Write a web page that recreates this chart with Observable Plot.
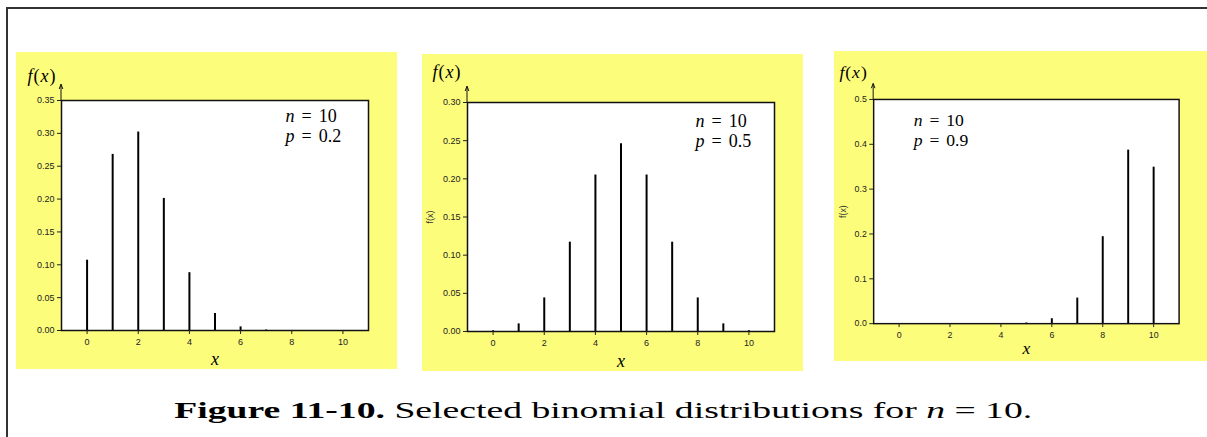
<!DOCTYPE html>
<html><head><meta charset="utf-8">
<script src="https://cdn.jsdelivr.net/npm/d3@7"></script>
<script src="https://cdn.jsdelivr.net/npm/@observablehq/plot@0.6"></script>
<style>
html,body{margin:0;padding:0;background:#fff;overflow:hidden;width:1207px;height:437px}
#page{position:relative;width:1207px;height:437px;overflow:hidden}
#border{position:absolute;left:6px;top:7px;width:1400px;height:600px;border-left:2px solid #333;border-top:2px solid #333}
.panel{position:absolute}
.panel svg{display:block}
#caption{position:absolute;left:0;width:1207px;text-align:center;top:398px;line-height:24px;font-family:"Liberation Serif",serif;font-size:24px;white-space:nowrap;color:#000}
#capspan{display:inline-block;transform-origin:50% 50%}
</style></head><body>
<div id="page">
<div id="border"></div>
<div class="panel" id="p1" style="left:16px;top:52px"></div>
<div class="panel" id="p2" style="left:422px;top:54px"></div>
<div class="panel" id="p3" style="left:834px;top:51px"></div>
<div id="caption"><span id="capspan"><b>Figure 11-10.</b> Selected binomial distributions for <i>n</i> = 10.</span></div>
</div>
<script>
// ---- data ----
const xValues = [0, 1, 2, 3, 4, 5, 6, 7, 8, 9, 10];
const fP02 = [0.107, 0.268, 0.302, 0.201, 0.088, 0.026, 0.0055, 0.0008, 0.0001, 0.0, 0.0];
const fP05 = [0.001, 0.010, 0.044, 0.117, 0.205, 0.246, 0.205, 0.117, 0.044, 0.010, 0.001];
const fP09 = [0.0, 0.0, 0.0, 0.0, 0.0001, 0.0015, 0.011, 0.057, 0.194, 0.387, 0.349];
const xTicks = [0, 2, 4, 6, 8, 10];
const yTicks1 = [0, 0.05, 0.10, 0.15, 0.20, 0.25, 0.30, 0.35];
const yTicks2 = [0, 0.05, 0.10, 0.15, 0.20, 0.25, 0.30];
const yTicks3 = [0, 0.1, 0.2, 0.3, 0.4, 0.5];
const nLabel = "n = 10";
const pLabels = ["p = 0.2", "p = 0.5", "p = 0.9"];
const yLabelTop = "f(x)";
const yLabelSide = "f(x)";
const xLabel = "x";

const YELLOW = "#fdfd7c";
const SERIF = "Liberation Serif";

function panel(cfg) {
  const data = xValues.map((x, i) => ({x, f: cfg.values[i]}));
  const yMax = cfg.yTicks[cfg.yTicks.length - 1];
  const marks = [
    Plot.frame({fill: "white", stroke: null}),
    Plot.ruleX(data, {x: "x", y1: 0, y2: "f", stroke: "#000", strokeWidth: 2}),
    Plot.frame({stroke: "#111", strokeWidth: 1.5}),
    Plot.axisY({ticks: cfg.yTicks, tickFormat: cfg.fmt, tickSize: 4, tickPadding: 3, label: null}),
    Plot.axisX({ticks: xTicks, tickFormat: d3.format("d"), tickSize: 4, tickPadding: 4, label: null}),
    (index, scales, values, dims) => {
      const x0 = dims.marginLeft, y0 = dims.marginTop;
      const g = d3.create("svg:g");
      g.append("line").attr("x1", x0).attr("x2", x0).attr("y1", y0).attr("y2", y0 - 15)
        .attr("stroke", "#111").attr("stroke-width", 1);
      g.append("path").attr("d", `M${x0 - 1.8},${y0 - 11}L${x0},${y0 - 16}L${x0 + 1.8},${y0 - 11}`)
        .attr("fill", "none").attr("stroke", "#111").attr("stroke-width", 1);
      return g.node();
    },
    Plot.text([yLabelTop], {frameAnchor: "top-left", dx: cfg.fxDx, dy: cfg.fxDy, textAnchor: "start", lineAnchor: "middle",
      fontFamily: SERIF, fontSize: 18, fill: "#000"}),
    Plot.text([xLabel], {frameAnchor: "bottom", dy: cfg.xlDy, lineAnchor: "middle",
      fontFamily: SERIF, fontSize: 18, fill: "#000"}),
    Plot.text([nLabel + "\n" + cfg.pLabel], {frameAnchor: "top-left", dx: cfg.annDx, dy: cfg.annDy, textAnchor: "start",
      lineAnchor: "top", lineHeight: 1.13, fontFamily: SERIF, fontSize: 18, fill: "#000"})
  ];
  if (cfg.side) {
    marks.push(Plot.text([yLabelSide], {frameAnchor: "left", dx: cfg.sideDx, rotate: -90, textAnchor: "middle",
      lineAnchor: "middle", fontFamily: "Liberation Sans", fontSize: 9, fill: "#333"}));
  }
  const chart = Plot.plot({
    width: cfg.width, height: cfg.height,
    marginLeft: cfg.m[0], marginRight: cfg.m[1], marginTop: cfg.m[2], marginBottom: cfg.m[3],
    x: {domain: [-1, 11]},
    y: {domain: [0, yMax]},
    style: {background: YELLOW, fontFamily: "Liberation Sans", fontSize: "9px", color: "#222", overflow: "visible"},
    marks
  });
  // italic math letters in serif texts, TeX-like wide spacing around "="
  d3.select(chart).selectAll("g[font-family='Liberation Serif'] text").each(function () {
    const spans = this.querySelectorAll("tspan");
    const nodes = spans.length ? Array.from(spans) : [this];
    for (const el of nodes) {
      const s = el.textContent;
      el.textContent = "";
      for (const ch of s) {
        const t = document.createElementNS("http://www.w3.org/2000/svg", "tspan");
        t.textContent = ch;
        if (/[a-z]/.test(ch)) t.setAttribute("font-style", "italic");
        if (ch === " ") t.setAttribute("letter-spacing", "2.5px");
        if (/[a-z()]/.test(ch) && s.includes("(")) t.setAttribute("letter-spacing", "1px");
        el.appendChild(t);
      }
    }
  });
  document.getElementById(cfg.id).appendChild(chart);
}

panel({id: "p1", values: fP02, yTicks: yTicks1, fmt: d3.format(".2f"), pLabel: pLabels[0],
  width: 381, height: 317, m: [45, 29, 48, 39], annDx: 224, annDy: 7, fxDx: -34, fxDy: -24, xlDy: 29, side: false});
panel({id: "p2", values: fP05, yTicks: yTicks2, fmt: d3.format(".2f"), pLabel: pLabels[1],
  width: 381, height: 317, m: [45, 29, 48, 40], annDx: 228, annDy: 10, fxDx: -35, fxDy: -30, xlDy: 30, side: true, sideDx: -37});
panel({id: "p3", values: fP09, yTicks: yTicks3, fmt: d3.format(".1f"), pLabel: pLabels[2],
  width: 381, height: 317, m: [40, 29, 49, 39], annDx: 41, annDy: 13, fxDx: -35, fxDy: -28, xlDy: 25, side: true, sideDx: -31});

// the reference caption is horizontally wide (~858px): stretch to match
const cap = document.getElementById("capspan");
const w = cap.getBoundingClientRect().width;
cap.style.transform = `scaleX(${858 / w})`;
</script>
</body></html>
